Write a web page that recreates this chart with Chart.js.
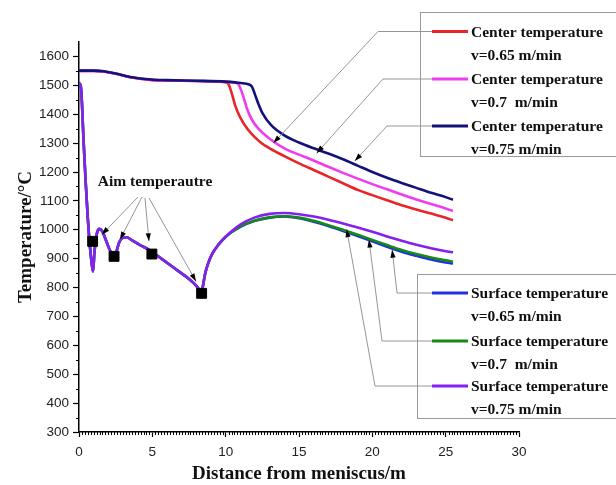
<!DOCTYPE html>
<html>
<head>
<meta charset="utf-8">
<script src="https://cdn.jsdelivr.net/npm/chart.js@4.4.1/dist/chart.umd.min.js"></script>
<style>
    html, body { margin: 0; padding: 0; background: #fff; }
    #grafico { display: block; }
</style>
</head>
<body>
<canvas id="grafico" width="616" height="485"></canvas>
<script>
// tick labels
const xTicks = [0, 5, 10, 15, 20, 25, 30]
const yTicks = [300, 400, 500, 600, 700, 800, 900, 1000, 1100, 1200, 1300, 1400, 1500, 1600]

const speeds = ['v=0.65 m/min', 'v=0.7  m/min', 'v=0.75 m/min']

// center temperature (°C) along the strand (m)
const centerDist065 = [0, 1, 1.7, 2.5, 3.5, 4.9, 6, 8, 9.5, 10, 10.2, 10.4, 10.65, 11, 11.5, 12, 12.5, 13, 14, 15, 16, 17, 18, 19, 20, 21, 22, 23, 24, 25, 25.5]
const centerTemp065 = [1550, 1550, 1548, 1540, 1528, 1519, 1517, 1515, 1513, 1511, 1503, 1475, 1430, 1388, 1348, 1320, 1298, 1282, 1255, 1230, 1207, 1184, 1161, 1138, 1120, 1102, 1085, 1070, 1056, 1042, 1033]

const centerDist07 = [0, 1, 1.7, 2.5, 3.5, 4.9, 6, 8, 10, 10.8, 11, 11.2, 11.45, 11.8, 12.2, 13, 14, 15, 16, 17, 18, 19, 20, 21, 22, 23, 24, 25, 25.5]
const centerTemp07 = [1550, 1550, 1548, 1540, 1528, 1519, 1517, 1515, 1512, 1507, 1490, 1462, 1420, 1380, 1352, 1315, 1282, 1260, 1240, 1218, 1197, 1177, 1158, 1140, 1122, 1105, 1089, 1074, 1065]

const centerDist075 = [0, 1, 1.7, 2.5, 3.5, 4.9, 6, 8, 10, 11, 11.6, 11.8, 12, 12.2, 12.5, 13.1, 14, 15, 16, 17, 18, 19, 20, 21, 22, 23, 24, 25, 25.5]
const centerTemp075 = [1551, 1551, 1549, 1541, 1529, 1520, 1518, 1516, 1513, 1508, 1503, 1495, 1468, 1440, 1405, 1362, 1327, 1302, 1282, 1264, 1244, 1222, 1200, 1180, 1162, 1145, 1128, 1113, 1104]

// surface temperature: mould and secondary cooling part is the same for all speeds
const surfaceStartDist = [0, 0.12, 0.2, 0.3, 0.45, 0.6, 0.75, 0.88, 0.96, 1.05, 1.2, 1.38, 1.6, 1.85, 2.1, 2.38, 2.55, 2.75, 2.95, 3.25, 3.6, 4.2, 4.8, 5.3, 6, 6.8, 7.5, 8, 8.2, 8.35, 8.45, 8.6, 8.8, 9.1, 9.5, 10]
const surfaceStartTemp = [1508, 1498, 1440, 1320, 1170, 1040, 940, 878, 856, 920, 982, 1003, 994, 962, 930, 906, 925, 958, 971, 974, 964, 946, 930, 912, 886, 856, 830, 806, 792, 778, 805, 848, 883, 918, 948, 976]

const surfaceTailDist = [11, 12, 13, 14, 15, 16, 17, 18, 19, 20, 21, 22, 23, 24, 25, 25.5]
const surfaceTail065 = [1010, 1031, 1042, 1046, 1040, 1028, 1013, 996, 978, 960, 941, 924, 910, 897, 887, 883]
const surfaceTail07 = [1011, 1032, 1043, 1047, 1042, 1031, 1016, 1000, 983, 965, 947, 930, 916, 904, 894, 890]
const surfaceTail075 = [1018, 1043, 1055, 1058, 1054, 1046, 1035, 1022, 1008, 993, 977, 962, 948, 936, 926, 922]

// aim temperature points
const aimDist = [0.93, 2.39, 4.97, 8.36]
const aimTemp = [960, 908, 916, 780]

const serif = "'Liberation Serif', 'Times New Roman', serif"
const sans = "'Liberation Sans', Arial, sans-serif"

function pontos(xs, ys) {
    return xs.map((v, i) => ({ x: v, y: ys[i] }))
}

function curva(label, speed, color, xs, ys, order) {
    return {
        label: label,
        speed: speed,
        data: pontos(xs, ys),
        showLine: true,
        borderColor: color,
        backgroundColor: color,
        borderWidth: 2.6,
        pointRadius: 0,
        cubicInterpolationMode: 'monotone',
        fill: false,
        order: order
    }
}

const datasets = [
    { label: 'Aim temperautre', data: pontos(aimDist, aimTemp), pointStyle: 'rect', pointRadius: 7, backgroundColor: '#000', borderColor: '#000', showLine: false, order: 0 },
    curva('Surface temperature', speeds[2], '#8420f0', surfaceStartDist.concat(surfaceTailDist), surfaceStartTemp.concat(surfaceTail075), 1),
    curva('Surface temperature', speeds[1], '#168a16', surfaceStartDist.concat(surfaceTailDist), surfaceStartTemp.concat(surfaceTail07), 2),
    curva('Surface temperature', speeds[0], '#1f30e6', surfaceStartDist.concat(surfaceTailDist), surfaceStartTemp.concat(surfaceTail065), 3),
    curva('Center temperature', speeds[2], '#12127a', centerDist075, centerTemp075, 4),
    curva('Center temperature', speeds[1], '#f03cf0', centerDist07, centerTemp07, 5),
    curva('Center temperature', speeds[0], '#e8262a', centerDist065, centerTemp065, 6)
]

// legend layout: boxes, where each entry sits, and where its pointer ends (in data units)
const legendBoxes = [
    { x: 420.5, y: 12.5, w: 200, h: 144, entries: [
        { ds: 6, y: 31.5, elbow: 378, tip: [13.25, 1300] },
        { ds: 5, y: 79, elbow: 383, tip: [16.2, 1265] },
        { ds: 4, y: 126, elbow: 387, tip: [18.8, 1238] }
    ] },
    { x: 417.5, y: 274.5, w: 203, h: 144, entries: [
        { ds: 3, y: 293, elbow: 397, tip: [21.35, 931] },
        { ds: 2, y: 341, elbow: 382, tip: [19.77, 966] },
        { ds: 1, y: 386, elbow: 375, tip: [18.25, 1002] }
    ] }
]

const aimArrows = [
    { from: [138, 197], tip: [1.55, 983] },
    { from: [142, 197], tip: [2.79, 966] },
    { from: [145, 198], tip: [4.77, 960] },
    { from: [149, 198], tip: [7.98, 821] }
]

function seta(ctx, x0, y0, x1, y1) {
    ctx.strokeStyle = '#8a8a8a'
    ctx.lineWidth = 0.9
    ctx.beginPath()
    ctx.moveTo(x0, y0)
    ctx.lineTo(x1, y1)
    ctx.stroke()
    const ang = Math.atan2(y1 - y0, x1 - x0)
    const len = 8, half = 2.6
    ctx.fillStyle = '#000'
    ctx.beginPath()
    ctx.moveTo(x1, y1)
    ctx.lineTo(x1 - len * Math.cos(ang) + half * Math.sin(ang), y1 - len * Math.sin(ang) - half * Math.cos(ang))
    ctx.lineTo(x1 - len * Math.cos(ang) - half * Math.sin(ang), y1 - len * Math.sin(ang) + half * Math.cos(ang))
    ctx.closePath()
    ctx.fill()
}

const anotacoes = {
    id: 'anotacoes',
    afterDraw(chart) {
        const { ctx, scales: { x, y } } = chart
        ctx.save()

        // minor ticks
        ctx.strokeStyle = '#000'
        ctx.lineWidth = 1
        ctx.beginPath()
        for (let i = 1; i < 150; i++) {
            if (i % 25 === 0) continue
            const px = Math.round(x.getPixelForValue(i * 0.2)) + 0.5
            ctx.moveTo(px, y.bottom)
            ctx.lineTo(px, y.bottom + 3)
        }
        for (let t = 350; t < 1650; t += 100) {
            const py = Math.round(y.getPixelForValue(t)) + 0.5
            ctx.moveTo(x.left - 3, py)
            ctx.lineTo(x.left, py)
        }
        ctx.stroke()

        // legend boxes with pointers to the curves
        for (const box of legendBoxes) {
            ctx.strokeStyle = '#9a9a9a'
            ctx.lineWidth = 1
            ctx.strokeRect(box.x, box.y, box.w, box.h)
            for (const item of box.entries) {
                const ds = chart.data.datasets[item.ds]
                const tx = x.getPixelForValue(item.tip[0])
                const ty = y.getPixelForValue(item.tip[1])
                ctx.strokeStyle = '#8a8a8a'
                ctx.lineWidth = 0.9
                ctx.beginPath()
                ctx.moveTo(432, item.y)
                ctx.lineTo(item.elbow, item.y)
                ctx.stroke()
                seta(ctx, item.elbow, item.y, tx, ty)

                ctx.strokeStyle = ds.borderColor
                ctx.lineWidth = 3
                ctx.beginPath()
                ctx.moveTo(432, item.y)
                ctx.lineTo(468, item.y)
                ctx.stroke()

                ctx.fillStyle = '#111'
                ctx.font = 'bold 15.5px ' + serif
                ctx.textBaseline = 'middle'
                ctx.textAlign = 'left'
                ctx.fillText(ds.label, 471, item.y + 1)
                ctx.fillText(ds.speed, 471, item.y + 24)
            }
        }

        // aim temperature note
        ctx.fillStyle = '#111'
        ctx.font = 'bold 15.5px ' + serif
        ctx.textAlign = 'center'
        ctx.textBaseline = 'middle'
        ctx.fillText(chart.data.datasets[0].label, 155, 182)
        for (const a of aimArrows) {
            seta(ctx, a.from[0], a.from[1], x.getPixelForValue(a.tip[0]), y.getPixelForValue(a.tip[1]))
        }
        ctx.restore()
    }
}

new Chart(document.getElementById('grafico'), {
    type: 'scatter',
    data: { datasets: datasets },
    options: {
        responsive: false,
        animation: false,
        layout: { padding: { left: 0, right: 97, top: 42, bottom: 0 } },
        plugins: {
            legend: { display: false },
            tooltip: { enabled: false }
        },
        scales: {
            x: {
                type: 'linear',
                min: 0,
                max: 30,
                afterFit: s => { s.height = 53 },
                afterBuildTicks: s => { s.ticks = xTicks.map(v => ({ value: v })) },
                grid: { drawOnChartArea: false, tickLength: 5, color: '#000', tickWidth: 1.2 },
                border: { color: '#000', width: 1.5 },
                ticks: { color: '#222', padding: 7, font: { family: sans, size: 13.5 }, callback: v => String(v) },
                title: { display: true, text: 'Distance from meniscus/m', color: '#111', padding: { top: 0, bottom: 0 }, font: { family: serif, size: 19, weight: 'bold' } }
            },
            y: {
                type: 'linear',
                min: 300,
                max: 1650,
                afterFit: s => { s.width = 79 },
                afterBuildTicks: s => { s.ticks = yTicks.map(v => ({ value: v })) },
                grid: { drawOnChartArea: false, tickLength: 6, color: '#000', tickWidth: 1.2 },
                border: { color: '#000', width: 1.5 },
                ticks: { color: '#222', padding: 4, font: { family: sans, size: 13.5 }, callback: v => String(v) },
                title: { display: true, text: 'Temperature/°C', color: '#111', padding: { top: 15, bottom: 0 }, font: { family: serif, size: 19, weight: 'bold' } }
            }
        }
    },
    plugins: [anotacoes]
});
</script>
</body>
</html>
